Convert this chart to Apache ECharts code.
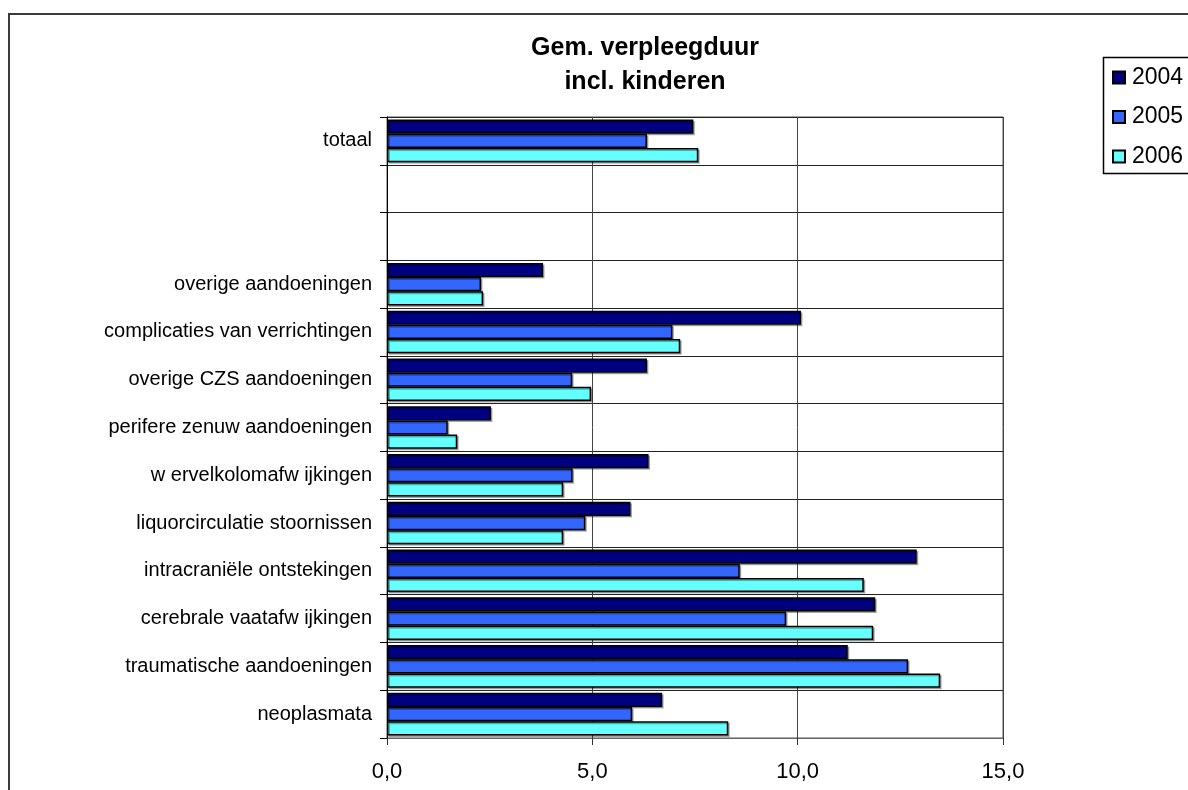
<!DOCTYPE html>
<html>
<head>
<meta charset="utf-8">
<script src="https://cdn.jsdelivr.net/npm/echarts@6/dist/echarts.min.js"></script>
<style>
html,body{margin:0;padding:0;background:#fff;}
#chart{width:1188px;height:790px;}
</style>
</head>
<body>
<div id="chart"></div>
<script>
// Categories listed top to bottom (y axis is inverted)
var categories = ['totaal', '', ' ', 'overige aandoeningen', 'complicaties van verrichtingen',
  'overige CZS aandoeningen', 'perifere zenuw aandoeningen', 'w ervelkolomafw ijkingen',
  'liquorcirculatie stoornissen', 'intracraniële ontstekingen', 'cerebrale vaatafw ijkingen',
  'traumatische aandoeningen', 'neoplasmata'];
var seriesNames = ['2004', '2005', '2006'];
var values2004 = [7.46, null, null, 3.80, 10.08, 6.33, 2.53, 6.37, 5.93, 12.90, 11.89, 11.22, 6.70];
var values2005 = [6.33, null, null, 2.29, 6.95, 4.51, 1.48, 4.52, 4.83, 8.59, 9.72, 12.69, 5.97];
var values2006 = [7.58, null, null, 2.34, 7.14, 4.97, 1.71, 4.29, 4.29, 11.61, 11.84, 13.47, 8.31];
var titleLines = ['Gem. verpleegduur', 'incl. kinderen'];
var xMin = 0, xMax = 15, xStep = 5;

var colors = ['#000080', '#3366FF', '#66FFFF'];
var allValues = [values2004, values2005, values2006];
var FONT = 'Liberation Sans, Arial, sans-serif';

var chart = echarts.init(document.getElementById('chart'), null, {renderer: 'canvas'});

var series = seriesNames.map(function (name, i) {
  return {
    name: name,
    type: 'bar',
    data: allValues[i],
    barWidth: 14.2,
    barGap: '0%',
    itemStyle: {
      color: colors[i],
      borderColor: '#000',
      borderWidth: 1.5,
      shadowColor: 'rgba(0,0,0,0.3)',
      shadowOffsetX: 1.5,
      shadowOffsetY: 1.5,
      shadowBlur: 0
    },
    emphasis: {disabled: true},
    animation: false
  };
});

var option = {
  animation: false,
  textStyle: {fontFamily: FONT},
  grid: {
    left: 387, top: 117, width: 616, height: 621,
    show: true, borderColor: '#555', borderWidth: 1, backgroundColor: 'transparent',
    containLabel: false
  },
  graphic: [
    {type: 'rect', z: -10, shape: {x: 9, y: 14, width: 1400, height: 900},
      style: {fill: 'none', stroke: '#3a3a3a', lineWidth: 2}},
    {type: 'rect', z: -10, shape: {x: 1103.5, y: 57.5, width: 200, height: 116},
      style: {fill: 'none', stroke: '#000', lineWidth: 1.5}},
    {type: 'text', x: 645, y: 48, style: {text: titleLines[0], font: 'bold 25px ' + FONT,
      fill: '#000', textAlign: 'center', textVerticalAlign: 'middle'}},
    {type: 'text', x: 645, y: 82, style: {text: titleLines[1], font: 'bold 25px ' + FONT,
      fill: '#000', textAlign: 'center', textVerticalAlign: 'middle'}}
  ],
  legend: {
    data: seriesNames,
    orient: 'vertical',
    left: 1112,
    top: 66,
    itemWidth: 12,
    itemHeight: 12,
    itemGap: 16.5,
    icon: 'rect',
    selectedMode: false,
    padding: 0,
    textStyle: {fontSize: 23, color: '#000', fontFamily: FONT, padding: [0, 0, 0, 2]}
  },
  xAxis: {
    type: 'value',
    min: xMin, max: xMax, interval: xStep,
    axisLine: {show: true, lineStyle: {color: '#666', width: 1}},
    axisTick: {show: true, length: 7, lineStyle: {color: '#333'}},
    splitLine: {show: true, lineStyle: {color: '#444', width: 1}},
    axisLabel: {
      fontSize: 22, color: '#000', margin: 23, fontFamily: FONT,
      formatter: function (v) { return v.toFixed(1).replace('.', ','); }
    }
  },
  yAxis: {
    type: 'category',
    inverse: true,
    data: categories,
    axisLine: {show: true, lineStyle: {color: '#000', width: 1}},
    axisTick: {show: true, length: 7, alignWithLabel: false, lineStyle: {color: '#000'}},
    splitLine: {show: true, lineStyle: {color: '#222', width: 1}},
    axisLabel: {fontSize: 20, color: '#000', margin: 15, fontFamily: FONT, interval: 0}
  },
  series: series
};
chart.setOption(option);
</script>
</body>
</html>
